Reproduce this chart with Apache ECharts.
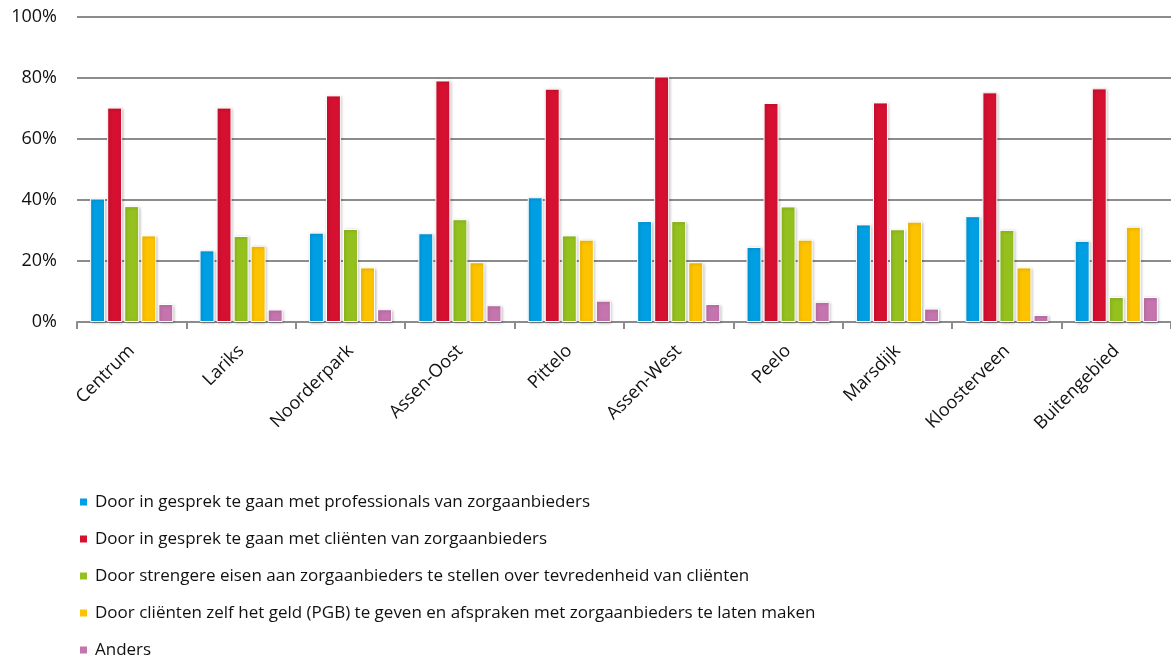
<!DOCTYPE html>
<html>
<head>
<meta charset="utf-8">
<script src="https://cdn.jsdelivr.net/npm/echarts@6/dist/echarts.min.js"></script>
<style>
html, body { margin: 0; padding: 0; background: #fff; }
#chart { width: 1171px; height: 655px; }
</style>
</head>
<body>
<div id="chart"></div>
<script>
const wijken = ['Centrum', 'Lariks', 'Noorderpark', 'Assen-Oost', 'Pittelo', 'Assen-West', 'Peelo', 'Marsdijk', 'Kloosterveen', 'Buitengebied'];

const professionals = [40.5, 23.5, 29.3, 29.1, 40.9, 33.1, 24.6, 32.0, 34.7, 26.6];
const clienten      = [70.3, 70.3, 74.3, 79.2, 76.5, 80.5, 71.8, 72.0, 75.3, 76.6];
const strengere     = [38.0, 28.2, 30.5, 33.7, 28.4, 33.1, 37.9, 30.4, 30.2, 8.2];
const pgb           = [28.4, 25.0, 17.9, 19.6, 27.0, 19.6, 27.0, 32.9, 17.9, 31.2];
const anders        = [5.9, 4.1, 4.2, 5.5, 7.0, 5.9, 6.6, 4.4, 2.3, 8.2];

const reeksNamen = [
    'Door in gesprek te gaan met professionals van zorgaanbieders',
    'Door in gesprek te gaan met cliënten van zorgaanbieders',
    'Door strengere eisen aan zorgaanbieders te stellen over tevredenheid van cliënten',
    'Door cliënten zelf het geld (PGB) te geven en afspraken met zorgaanbieders te laten maken',
    'Anders'
];
const kleuren = ['#009fe3', '#d51030', '#95c11f', '#fdc300', '#c574ae'];
const reeksData = [professionals, clienten, strengere, pgb, anders];

const font = '"Open Sans", sans-serif';

const chart = echarts.init(document.getElementById('chart'));
chart.setOption({
    animation: false,
    color: kleuren,
    grid: { left: 77, right: 0, top: 17, bottom: 333 },
    legend: {
        orient: 'vertical',
        left: 73,
        top: 486,
        height: 170,
        itemWidth: 9,
        itemHeight: 9,
        itemGap: 15,
        icon: 'rect',
        textStyle: { fontFamily: font, fontSize: 17, color: '#111', lineHeight: 22, padding: [0, 0, 0, 2] },
        data: reeksNamen
    },
    xAxis: {
        type: 'category',
        data: wijken,
        axisLine: { lineStyle: { color: '#8c8c8c', width: 2 } },
        axisTick: { show: true, length: 7, lineStyle: { color: '#8c8c8c', width: 2 } },
        axisLabel: { rotate: 45, fontFamily: font, fontSize: 18, color: '#111', margin: 26 }
    },
    yAxis: {
        type: 'value',
        min: 0,
        max: 100,
        interval: 20,
        axisLabel: { formatter: '{value}%', fontFamily: font, fontSize: 18, color: '#111', margin: 20 },
        axisLine: { show: false },
        axisTick: { show: false },
        splitLine: { lineStyle: { color: '#8c8c8c', width: 2 } }
    },
    series: reeksNamen.map((naam, i) => ({
        name: naam,
        type: 'bar',
        data: reeksData[i],
        barCategoryGap: '24%',
        barGap: '14%',
        itemStyle: {
            color: kleuren[i],
            borderColor: '#fff',
            borderWidth: 1,
            shadowBlur: 3,
            shadowColor: 'rgba(0,0,0,0.25)',
            shadowOffsetX: 1,
            shadowOffsetY: 1
        }
    }))
});
</script>
</body>
</html>
